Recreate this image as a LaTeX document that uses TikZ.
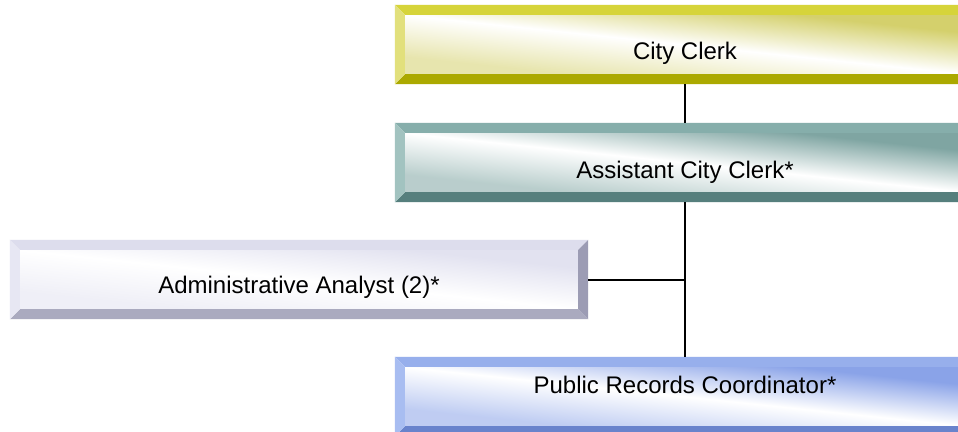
\documentclass[tikz,border=0pt]{standalone}
\usepackage{fontspec}
\setmainfont{Liberation Sans}
\definecolor{ytop}{HTML}{D6D43A}
\definecolor{yleft}{HTML}{E2E07C}
\definecolor{yright}{HTML}{BDBB20}
\definecolor{ybot}{HTML}{ABA900}
\definecolor{ytint}{HTML}{D4D06C}
\definecolor{ttop}{HTML}{86AEAB}
\definecolor{tleft}{HTML}{A2C3C0}
\definecolor{tright}{HTML}{6E9895}
\definecolor{tbot}{HTML}{567F7D}
\definecolor{ttint}{HTML}{7FA5A2}
\definecolor{ltop}{HTML}{DDDDED}
\definecolor{lleft}{HTML}{E7E7F3}
\definecolor{lright}{HTML}{9C9CB4}
\definecolor{lbot}{HTML}{AAAABF}
\definecolor{ltint}{HTML}{E2E2F0}
\definecolor{btop}{HTML}{97AFEC}
\definecolor{bleft}{HTML}{A8BDF1}
\definecolor{bright}{HTML}{7E98DC}
\definecolor{bbot}{HTML}{6983CC}
\definecolor{btint}{HTML}{8AA3E8}
\newcommand\bevelbox[2]{%
  \fill[#2top] (#1.north west) -- (#1.north east) -- ([shift={(-10,10)}]#1.north east) -- ([shift={(10,10)}]#1.north west) -- cycle;
  \fill[#2bot] (#1.south west) -- (#1.south east) -- ([shift={(-10,-10)}]#1.south east) -- ([shift={(10,-10)}]#1.south west) -- cycle;
  \fill[#2left] (#1.north west) -- ([shift={(10,10)}]#1.north west) -- ([shift={(10,-10)}]#1.south west) -- (#1.south west) -- cycle;
  \fill[#2right] (#1.north east) -- ([shift={(-10,10)}]#1.north east) -- ([shift={(-10,-10)}]#1.south east) -- (#1.south east) -- cycle;
}
\newcommand\innershade[5]{%
  \begin{scope}[transform canvas={shift={(#1,#2)}, xscale={(#3-#1)/100}, yscale={(#4-#2)/100}}]
    \shade[top color=#5tint, bottom color=#5tint!55!white, middle color=white, shading angle=-45] (0,0) rectangle (100,100);
  \end{scope}}
\begin{document}
\begin{tikzpicture}[x=1pt,y=-1pt,
  box/.style={rectangle, inner sep=0pt, minimum height=79pt},
  lbl/.style={anchor=base, inner sep=0pt, font=\fontsize{24}{28}\selectfont},
  conn/.style={line width=2pt}]
\useasboundingbox (0,0) rectangle (958,431);
\clip (0,0) rectangle (958,431);
\fill[white] (0,0) rectangle (958,431);
\node[box, minimum width=580pt] (clerk) at (685,44.5) {};
\node[box, minimum width=580pt] (asst) at (685,162.5) {};
\node[box, minimum width=578pt] (analyst) at (299,279.5) {};
\node[box, minimum width=580pt] (prc) at (685,396.5) {};
\innershade{405}{15}{965}{74}{y}
\innershade{405}{133}{965}{192}{t}
\innershade{20}{250}{578}{309}{l}
\innershade{405}{367}{965}{426}{b}
\bevelbox{clerk}{y}
\bevelbox{asst}{t}
\bevelbox{analyst}{l}
\bevelbox{prc}{b}
\node[lbl] (clerk-t) at ([shift={(0,15)}]clerk.center) {City Clerk};
\node[lbl] (asst-t) at ([shift={(0,15.5)}]asst.center) {Assistant City Clerk*};
\node[lbl] (analyst-t) at ([shift={(0,13.5)}]analyst.center) {Administrative Analyst (2)*};
\node[lbl] (prc-t) at ([shift={(0,-3.5)}]prc.center) {Public Records Coordinator*};
\draw[conn] (clerk.south) -- (asst.north);
\draw[conn] (asst.south) -- (prc.north);
\draw[conn] (analyst.east) -- (analyst.east -| asst.south);
\end{tikzpicture}
\end{document}
